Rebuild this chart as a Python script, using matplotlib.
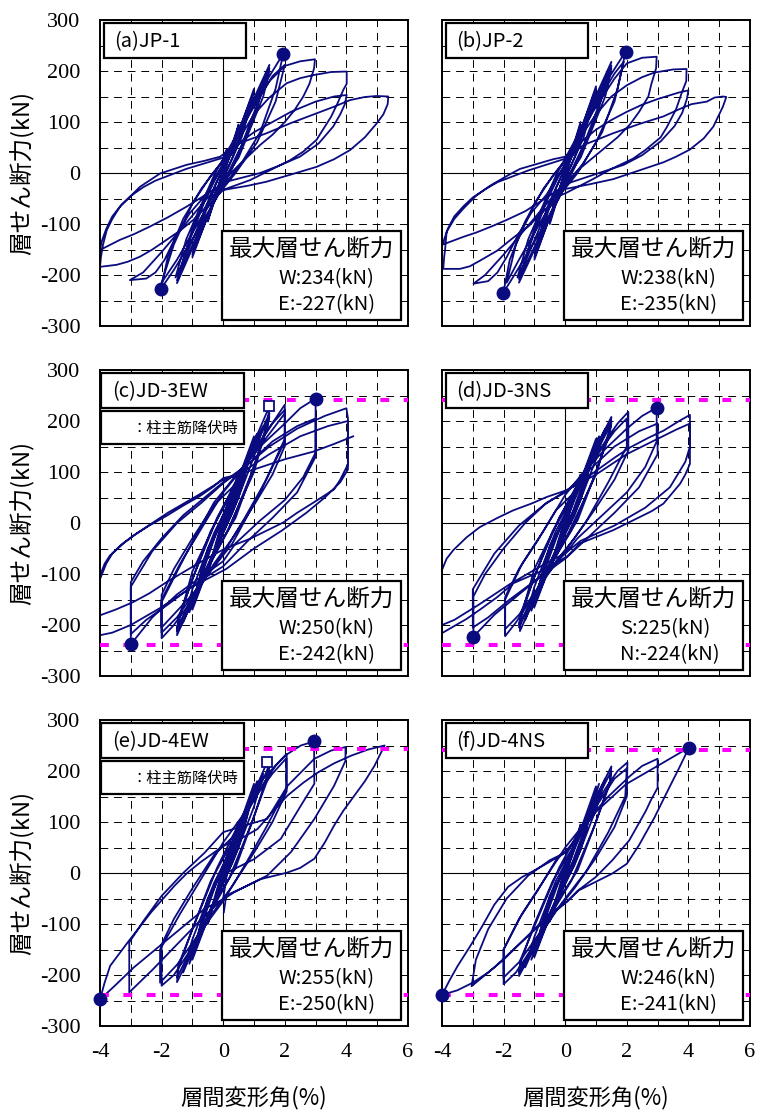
import matplotlib
matplotlib.use("Agg")
import matplotlib.pyplot as plt
from matplotlib.patches import Rectangle

plt.rcParams['font.family'] = ['Noto Sans CJK JP', 'DejaVu Sans']
plt.rcParams['axes.unicode_minus'] = False

# ---------------- data (drift angle %, story shear kN) ----------------
panel_titles = ['(a)JP-1', '(b)JP-2', '(c)JD-3EW', '(d)JD-3NS', '(e)JD-4EW', '(f)JD-4NS']
max_pos_label = ['W:234(kN)', 'W:238(kN)', 'W:250(kN)', 'S:225(kN)', 'W:255(kN)', 'W:246(kN)']
max_neg_label = ['E:-227(kN)', 'E:-235(kN)', 'E:-242(kN)', 'N:-224(kN)', 'E:-250(kN)', 'E:-241(kN)']

# max shear points (drift, shear)
max_pos_pt = [(1.95, 234), (1.96, 238), (3.0, 244), (2.97, 226), (2.95, 258), (4.02, 246)]
max_neg_pt = [(-2.02, -227), (-2.01, -235), (-3.0, -238), (-2.98, -223), (-4.0, -248), (-4.0, -239)]

# column main bar yield points (only EW specimens)
yield_pt = [None, None, (1.5, 229), None, (1.43, 218), None]

# calculated strength lines (pink)
calc_pos = [None, None, 242, 242, 243, 242]
calc_neg = [None, None, -239, -240, -239, -240]

jp1_path = [
    (0.0, 0), (0.25, 45), (0.1, 15), (-0.25, -45), (-0.1, -15), (0.0, 0),
    (0.5, 95), (0.35, 55), (0.0, 0), (-0.5, -95), (-0.35, -55), (0.0, 0),
    (0.5, 92), (0.1, 15), (-0.5, -92), (-0.1, -15), (0.2, 30),
    (1.0, 165), (0.8, 115), (0.3, 30), (-0.2, -35), (-1.0, -165), (-0.8, -115), (-0.3, -30), (0.2, 35),
    (1.0, 160), (0.6, 70), (-0.1, -25), (-1.0, -160), (-0.6, -70), (0.1, 25),
    (0.8, 120), (1.5, 212), (1.2, 150), (0.6, 55), (0.0, -20), (-0.8, -120), (-1.5, -216), (-1.2, -150), (-0.6, -55), (0.0, 20),
    (0.8, 115), (1.5, 205), (1.0, 110), (0.3, 10), (-0.8, -115), (-1.5, -210), (-1.0, -110), (-0.3, -10), (0.3, 40),
    (1.2, 165), (1.5, 200), (1.3, 150), (0.5, 30), (-0.5, -60), (-1.3, -175), (-1.55, -205), (-1.2, -130), (-0.3, -5),
    (1.4, 180), (1.95, 234), (1.7, 165), (1.2, 80), (0.6, 20), (0.0, -25), (-0.9, -120), (-1.6, -190), (-2.02, -227),
    (-1.8, -165), (-1.3, -90), (-0.7, -30), (0.0, 25),
    (0.9, 120), (1.6, 190), (2.0, 212), (1.7, 140), (1.1, 60), (0.4, 0), (-0.6, -75), (-1.5, -170), (-2.0, -215),
    (-1.6, -140), (-1.0, -60), (-0.4, -5), (0.2, 40),
    (0.9, 125), (1.5, 180), (2.0, 210), (2.5, 219), (2.98, 223), (2.95, 205), (2.8, 175), (2.6, 150), (2.3, 122),
    (2.0, 100), (1.6, 75), (1.2, 55), (0.5, 15), (0.0, -15), (-0.6, -55), (-1.3, -105), (-2.0, -155), (-2.6, -195),
    (-3.03, -210), (-2.5, -207), (-2.2, -195), (-1.9, -170), (-1.5, -120), (-1.1, -80), (-0.6, -45), (0.0, 15), (0.3, 40),
    (0.6, 75), (1.0, 115), (1.5, 148), (2.06, 176), (2.5, 186), (2.93, 192), (3.5, 198), (4.01, 199), (4.01, 175),
    (3.9, 163), (3.7, 135), (3.5, 110), (3.03, 65), (2.6, 42), (2.17, 25), (1.5, 5), (0.87, -14), (0.0, -33),
    (-0.32, -53), (-0.97, -92), (-1.4, -113), (-1.84, -131), (-2.3, -150), (-2.7, -164), (-3.1, -174), (-3.46, -180),
    (-4.0, -184), (-3.97, -165), (-3.9, -140), (-3.78, -112), (-3.6, -90), (-3.35, -66), (-3.0, -45), (-2.7, -27),
    (-2.05, -1), (-1.6, 8), (-1.19, 16), (-0.6, 24), (-0.1, 32),
    (0.5, 58), (1.0, 80), (1.6, 100), (2.2, 120), (3.0, 140), (3.6, 150), (4.01, 153), (3.95, 135), (3.8, 115),
    (3.57, 91), (3.1, 58), (2.49, 32), (1.8, 14), (1.2, 0), (0.11, -17), (-0.5, -40), (-1.19, -66), (-1.8, -87),
    (-2.38, -105), (-2.9, -120), (-3.35, -131), (-4.0, -151), (-3.95, -135), (-3.8, -110), (-3.6, -85), (-3.3, -62),
    (-3.0, -45), (-2.6, -28), (-2.2, -15), (-1.2, 8), (0.0, 30),
    (0.1, 45), (0.6, 60), (1.41, 78), (2.2, 98), (3.03, 117), (3.6, 130), (4.12, 143), (4.6, 149), (4.98, 151),
    (5.36, 150), (5.34, 135), (5.2, 115), (4.98, 97), (4.6, 70), (4.12, 45), (3.6, 27), (3.03, 12), (2.2, -3),
    (1.41, -17), (0.8, -25), (0.33, -30), (0.03, -33),
]

jp2_path = [
    (0.0, 0), (0.25, 45), (0.1, 15), (-0.25, -45), (-0.1, -15), (0.0, 0),
    (0.5, 100), (0.35, 55), (0.0, 0), (-0.5, -100), (-0.35, -55), (0.0, 0),
    (0.5, 95), (0.1, 15), (-0.5, -95), (-0.1, -15), (0.2, 30),
    (1.0, 170), (0.8, 120), (0.3, 30), (-0.2, -35), (-1.0, -170), (-0.8, -120), (-0.3, -30), (0.2, 35),
    (1.0, 165), (0.6, 70), (-0.1, -25), (-1.0, -165), (-0.6, -70), (0.1, 25),
    (0.8, 125), (1.5, 218), (1.2, 150), (0.6, 55), (0.0, -20), (-0.8, -125), (-1.5, -215), (-1.2, -150), (-0.6, -55), (0.0, 20),
    (0.8, 120), (1.5, 210), (1.0, 110), (0.3, 10), (-0.8, -120), (-1.5, -208), (-1.0, -110), (-0.3, -10), (0.3, 40),
    (1.2, 170), (1.5, 205), (1.3, 150), (0.5, 30), (-0.5, -60), (-1.3, -175), (-1.55, -205), (-1.2, -130), (-0.3, -5),
    (1.4, 185), (1.96, 238), (1.7, 165), (1.2, 80), (0.6, 20), (0.0, -25), (-0.9, -125), (-1.6, -195), (-2.01, -235),
    (-1.8, -170), (-1.3, -95), (-0.7, -30), (0.0, 25),
    (0.9, 125), (1.6, 195), (1.9, 218), (1.6, 140), (1.0, 60), (0.4, 0), (-0.6, -75), (-1.5, -170), (-1.9, -215),
    (-1.6, -140), (-1.0, -60), (-0.4, -5), (0.2, 40),
    (0.9, 120), (1.6, 185), (2.0, 215), (2.5, 226), (2.97, 228), (2.95, 205), (2.8, 175), (2.7, 150), (2.4, 120),
    (2.1, 95), (1.7, 70), (1.3, 50), (0.5, 10), (0.0, -20), (-0.6, -60), (-1.3, -110), (-2.0, -160), (-2.6, -200),
    (-2.98, -217), (-2.5, -212), (-2.2, -195), (-1.9, -165), (-1.5, -118), (-1.1, -78), (-0.6, -42), (0.0, 15), (0.3, 40),
    (0.6, 80), (1.0, 115), (1.5, 150), (2.0, 172), (2.5, 188), (2.9, 197), (3.5, 203), (3.94, 204), (3.93, 180),
    (3.8, 160), (3.6, 125), (3.3, 90), (3.1, 70), (2.6, 45), (2.2, 28), (1.5, 8), (0.9, -12), (0.0, -40),
    (-0.17, -44), (-0.82, -82), (-1.2, -105), (-1.69, -127), (-2.2, -152), (-2.77, -172), (-3.1, -183),
    (-3.42, -188), (-3.96, -188), (-3.93, -165), (-3.9, -150), (-3.85, -115), (-3.6, -90), (-3.31, -70), (-2.9, -45),
    (-2.44, -25), (-1.9, -6), (-1.47, 8), (-0.9, 18), (-0.39, 27), (0.0, 32),
    (0.5, 60), (1.0, 85), (1.5, 104), (2.0, 120), (2.5, 134), (3.0, 145), (3.7, 158), (4.0, 162), (3.95, 145),
    (3.8, 118), (3.55, 92), (3.1, 62), (2.5, 35), (1.9, 16), (1.2, 2), (0.1, -20), (-0.6, -48), (-1.3, -75),
    (-1.9, -92), (-2.4, -105), (-2.9, -117), (-3.3, -125), (-3.96, -140), (-3.93, -130), (-3.8, -108), (-3.6, -85),
    (-3.3, -65), (-3.0, -48), (-2.6, -32), (-2.2, -18), (-1.2, 5), (0.0, 28),
    (0.6, 55), (1.56, 78), (2.4, 96), (3.19, 111), (3.7, 125), (4.1, 135), (4.6, 140), (4.85, 148), (5.13, 150),
    (5.23, 149), (5.12, 130), (5.0, 115), (4.81, 91), (4.5, 68), (4.05, 46), (3.6, 32), (3.19, 21), (2.4, 5),
    (1.56, -12), (0.8, -22), (0.03, -31),
]

jd3ew_path = [
    (0.0, 0), (0.25, 50), (0.1, 15), (-0.25, -50), (-0.1, -15), (0.0, 0),
    (0.5, 100), (0.4, 75), (0.0, 5), (-0.5, -100), (-0.4, -75), (0.0, -5),
    (0.5, 95), (0.1, 10), (-0.5, -95), (-0.1, -10), (0.3, 55),
    (1.0, 170), (0.95, 150), (0.5, 60), (0.0, -15), (-0.5, -90), (-1.0, -170), (-0.95, -150), (-0.5, -60), (0.0, 15),
    (0.5, 85), (1.0, 165), (0.6, 70), (0.0, -10), (-1.0, -165), (-0.6, -70), (0.0, 10),
    (0.5, 80), (1.0, 160), (0.5, 50), (-1.0, -160), (-0.5, -50), (0.2, 30),
    (0.7, 110), (1.1, 175), (0.8, 120), (0.2, 20), (-0.4, -70), (-1.1, -175), (-0.8, -120), (-0.2, -15), (0.1, 30),
    (0.8, 130), (1.5, 229), (1.45, 200), (1.0, 110), (0.4, 10), (-0.3, -60), (-0.9, -140), (-1.5, -220), (-1.45, -190),
    (-1.0, -110), (-0.4, -15), (0.2, 50),
    (0.9, 135), (1.5, 215), (1.45, 190), (0.9, 95), (0.2, -10), (-0.8, -120), (-1.5, -212), (-1.45, -185), (-0.9, -95), (-0.2, 10),
    (0.8, 120), (1.5, 208), (1.0, 100), (0.1, -20), (-1.5, -205), (-1.0, -95), (-0.1, 20),
    (0.7, 115), (1.3, 190), (1.0, 130), (0.3, 20), (-0.6, -95), (-1.3, -195), (-1.0, -130), (-0.3, -20), (0.2, 40),
    (0.6, 100), (1.3, 170), (1.7, 205), (2.0, 232), (2.0, 151), (1.6, 95), (1.0, 35), (0.3, -30), (-0.3, -80),
    (-1.0, -150), (-1.6, -200), (-2.0, -226), (-2.0, -141), (-1.6, -90), (-1.0, -30), (-0.3, 35), (0.3, 70),
    (1.0, 140), (1.6, 195), (2.0, 222), (2.0, 160), (1.4, 85), (0.7, 10), (0.0, -60), (-0.8, -125), (-1.5, -185),
    (-2.0, -215), (-2.0, -150), (-1.4, -80), (-0.7, -10), (0.0, 60),
    (1.0, 135), (2.0, 215), (2.0, 165), (1.2, 60), (0.3, -40), (-1.0, -140), (-2.0, -205), (-2.0, -155), (-1.2, -60), (-0.3, 40),
    (0.5, 100), (1.2, 150), (2.0, 195), (2.5, 225), (3.0, 244), (3.0, 138), (2.6, 90), (2.0, 45), (1.2, 5), (0.4, -40),
    (0.0, -75), (-0.7, -105), (-1.5, -140), (-2.3, -185), (-3.0, -238), (-3.0, -116), (-2.6, -75), (-2.0, -30),
    (-1.3, 15), (-0.6, 50), (0.0, 80),
    (0.8, 115), (1.6, 160), (2.4, 190), (3.0, 205), (3.0, 130), (2.4, 60), (1.6, 10), (0.8, -35), (0.0, -85),
    (-0.8, -115), (-1.8, -160), (-2.5, -190), (-3.0, -218), (-3.0, -125), (-2.3, -55), (-1.5, 0), (-0.7, 40), (0.0, 78),
    (0.6, 105), (1.5, 150), (2.4, 185), (3.3, 210), (4.0, 225), (4.05, 205), (4.05, 105), (3.8, 80), (3.3, 50),
    (2.7, 20), (1.9, -15), (1.0, -50), (0.1, -90), (-1.0, -125), (-2.0, -165), (-3.0, -200), (-3.6, -215), (-4.0, -220),
    (-4.0, -103), (-3.85, -80), (-3.68, -64), (-3.3, -42), (-2.92, -25), (-2.4, -5), (-1.84, 14), (-1.3, 34),
    (-0.75, 53), (-0.3, 72), (0.0, 88),
    (0.5, 95), (1.5, 135), (2.5, 170), (3.4, 190), (4.05, 200), (4.05, 115), (3.8, 85), (3.6, 66), (2.93, 40),
    (2.4, 20), (1.95, 1), (0.87, -31), (0.03, -51), (-0.75, -77), (-1.84, -116), (-2.4, -138), (-2.92, -155),
    (-3.5, -170), (-4.0, -181), (-4.0, -110), (-3.8, -80), (-3.6, -60), (-3.2, -38), (-2.8, -20), (-1.8, 20),
    (-0.8, 55), (0.0, 85),
    (1.0, 105), (2.0, 125), (2.93, 140), (3.6, 155), (4.22, 170),
]

jd3ns_path = [
    (0.0, 0), (0.25, 45), (0.1, 15), (-0.25, -45), (-0.1, -15), (0.0, 0),
    (0.5, 95), (0.4, 70), (0.0, 5), (-0.5, -95), (-0.4, -70), (0.0, -5),
    (0.5, 90), (0.1, 10), (-0.5, -90), (-0.1, -10), (0.3, 50),
    (1.0, 165), (0.95, 145), (0.5, 55), (0.0, -15), (-0.5, -85), (-1.0, -165), (-0.95, -145), (-0.5, -55), (0.0, 15),
    (0.5, 80), (1.0, 160), (0.6, 65), (0.0, -10), (-1.0, -160), (-0.6, -65), (0.0, 10),
    (0.5, 75), (1.0, 155), (0.5, 45), (-1.0, -155), (-0.5, -45), (0.2, 30),
    (0.7, 105), (1.1, 170), (0.8, 115), (0.2, 15), (-0.4, -65), (-1.1, -172), (-0.8, -115), (-0.2, -15), (0.1, 30),
    (0.8, 125), (1.5, 208), (1.45, 180), (1.0, 100), (0.4, 5), (-0.3, -60), (-0.9, -135), (-1.47, -212), (-1.45, -185),
    (-1.0, -105), (-0.4, -15), (0.2, 45),
    (0.9, 130), (1.5, 200), (1.45, 175), (0.9, 85), (0.2, -15), (-0.8, -115), (-1.5, -205), (-1.45, -178), (-0.9, -90), (-0.2, 10),
    (0.8, 115), (1.5, 195), (1.0, 95), (0.1, -20), (-1.5, -198), (-1.0, -90), (-0.1, 20),
    (0.7, 110), (1.3, 185), (1.0, 125), (0.3, 15), (-0.6, -90), (-1.3, -190), (-1.0, -125), (-0.3, -15), (0.2, 40),
    (0.6, 95), (1.3, 160), (1.7, 195), (2.05, 218), (2.05, 142), (1.6, 85), (1.0, 30), (0.3, -30), (-0.3, -75),
    (-1.0, -140), (-1.6, -195), (-1.95, -222), (-1.95, -145), (-1.5, -90), (-0.9, -35), (-0.3, 25), (0.3, 60),
    (1.0, 130), (1.6, 180), (2.0, 205), (2.0, 150), (1.4, 80), (0.7, 5), (0.0, -55), (-0.8, -120), (-1.5, -180),
    (-1.95, -208), (-1.95, -150), (-1.4, -80), (-0.7, -15), (0.0, 55),
    (0.6, 100), (1.3, 145), (2.0, 185), (2.5, 210), (2.97, 226), (2.97, 160), (2.6, 110), (2.0, 60), (1.2, 15),
    (0.4, -30), (0.0, -60), (-0.7, -100), (-1.5, -140), (-2.3, -180), (-2.98, -223), (-2.98, -144), (-2.6, -100),
    (-2.0, -50), (-1.3, 0), (-0.6, 40), (0.0, 60),
    (0.8, 105), (1.6, 150), (2.4, 180), (3.0, 195), (3.0, 135), (2.4, 70), (1.6, 20), (0.8, -25), (0.0, -70),
    (-0.8, -105), (-1.8, -150), (-2.5, -185), (-3.0, -205), (-3.0, -130), (-2.3, -60), (-1.5, -5), (-0.7, 35), (0.0, 62),
    (0.5, 80), (1.02, 103), (1.6, 128), (2.1, 148), (2.7, 167), (3.19, 181), (3.7, 200), (4.05, 212), (4.05, 116),
    (3.9, 95), (3.73, 77), (3.19, 38), (2.8, 23), (2.43, 12), (1.56, -14), (0.48, -40), (0.05, -66), (-0.8, -95),
    (-1.68, -118), (-2.2, -145), (-2.77, -170), (-3.2, -188), (-3.63, -203), (-4.0, -216), (-4.0, -92), (-3.85, -70),
    (-3.63, -53), (-3.2, -28), (-2.77, -8), (-2.2, 10), (-1.68, 25), (-1.1, 38), (-0.6, 51), (0.03, 64),
    (1.0, 95), (2.0, 135), (3.0, 165), (3.6, 183), (4.05, 195), (4.05, 150), (3.9, 120), (3.4, 70), (2.6, 30),
    (1.6, -5), (0.5, -35), (0.03, -58), (-0.8, -85), (-1.8, -120), (-2.8, -160), (-3.6, -190), (-4.0, -200), (-4.0, -164),
]

jd4ew_path = [
    (0.0, 0), (0.25, 50), (0.1, 15), (-0.25, -50), (-0.1, -15), (0.0, 0),
    (0.5, 100), (0.4, 75), (0.0, 5), (-0.5, -100), (-0.4, -75), (0.0, -5),
    (0.5, 95), (0.1, 10), (-0.5, -95), (-0.1, -10), (0.3, 55),
    (1.0, 175), (0.95, 150), (0.5, 60), (0.0, -15), (-0.5, -90), (-1.0, -170), (-0.95, -150), (-0.5, -60), (0.0, 15),
    (0.5, 85), (1.0, 168), (0.6, 70), (0.0, -10), (-1.0, -165), (-0.6, -70), (0.0, 10),
    (0.5, 80), (1.0, 160), (0.5, 50), (-1.0, -160), (-0.5, -50), (0.2, 30),
    (0.7, 115), (1.1, 180), (0.8, 120), (0.2, 20), (-0.4, -70), (-1.1, -178), (-0.8, -120), (-0.2, -15), (0.1, 30),
    (0.8, 130), (1.43, 218), (1.45, 195), (1.0, 110), (0.4, 10), (-0.3, -60), (-0.9, -140), (-1.5, -214), (-1.45, -185),
    (-1.0, -110), (-0.4, -15), (0.2, 50),
    (0.9, 135), (1.5, 210), (1.45, 185), (0.9, 95), (0.2, -10), (-0.8, -120), (-1.5, -205), (-1.45, -180), (-0.9, -95), (-0.2, 10),
    (0.7, 120), (1.3, 195), (1.0, 130), (0.3, 20), (-0.6, -95), (-1.3, -195), (-1.0, -130), (-0.3, -20), (0.2, 40),
    (0.6, 100), (1.3, 175), (1.7, 210), (2.06, 233), (2.06, 160), (1.6, 100), (1.0, 40), (0.3, -25), (-0.3, -75),
    (-1.0, -145), (-1.6, -200), (-2.0, -221), (-2.0, -140), (-1.6, -90), (-1.0, -30), (-0.3, 35), (0.3, 70),
    (1.0, 145), (1.6, 195), (2.05, 225), (2.05, 165), (1.4, 90), (0.7, 15), (0.0, -55), (-0.8, -120), (-1.5, -180),
    (-2.05, -215), (-2.05, -150), (-1.4, -80), (-0.7, -10), (0.0, 60),
    (0.6, 110), (1.0, 150), (1.3, 185), (2.0, 230), (2.52, 250), (2.95, 258), (2.96, 175), (2.52, 132), (1.87, 67),
    (1.0, 27), (0.13, 1), (0.0, -50), (-0.7, -90), (-1.5, -140), (-2.3, -190), (-3.05, -234), (-3.05, -136),
    (-2.6, -95), (-2.0, -45), (-1.3, 0), (-0.6, 40), (0.0, 80),
    (0.8, 95), (1.43, 106), (2.09, 171), (2.96, 224), (3.5, 240), (3.97, 247), (3.97, 220), (3.6, 171), (2.96, 106),
    (2.2, 41), (1.43, -5), (0.35, -38), (0.02, -51), (-0.6, -70), (-1.2, -100), (-2.0, -140), (-2.9, -185),
    (-3.5, -220), (-4.0, -248), (-3.85, -215), (-3.67, -182), (-3.1, -136), (-2.34, -77), (-1.58, -25), (-1.17, 0),
    (-0.74, 21), (0.0, 53),
    (0.5, 65), (1.11, 86), (1.6, 120), (2.09, 152), (2.6, 177), (3.07, 197), (3.6, 215), (4.15, 230), (4.7, 242),
    (5.24, 250), (4.91, 210), (4.6, 180), (4.26, 152), (3.9, 122), (3.6, 93), (3.3, 60), (2.96, 28), (2.5, 10),
    (2.09, 1), (1.22, -12), (0.6, -30), (0.1, -44), (0.02, -77),
]

jd4ns_path = [
    (0.0, 0), (0.25, 45), (0.1, 15), (-0.25, -45), (-0.1, -15), (0.0, 0),
    (0.5, 95), (0.4, 70), (0.0, 5), (-0.5, -95), (-0.4, -70), (0.0, -5),
    (0.5, 90), (0.1, 10), (-0.5, -90), (-0.1, -10), (0.3, 50),
    (1.0, 170), (0.95, 145), (0.5, 55), (0.0, -15), (-0.5, -85), (-1.0, -165), (-0.95, -145), (-0.5, -55), (0.0, 15),
    (0.5, 80), (1.0, 162), (0.6, 65), (0.0, -10), (-1.0, -160), (-0.6, -65), (0.0, 10),
    (0.5, 75), (1.0, 158), (0.5, 45), (-1.0, -155), (-0.5, -45), (0.2, 30),
    (0.7, 110), (1.1, 175), (0.8, 115), (0.2, 15), (-0.4, -65), (-1.1, -170), (-0.8, -115), (-0.2, -15), (0.1, 30),
    (0.8, 125), (1.5, 209), (1.45, 180), (1.0, 100), (0.4, 5), (-0.3, -60), (-0.9, -135), (-1.5, -202), (-1.45, -175),
    (-1.0, -100), (-0.4, -15), (0.2, 45),
    (0.9, 130), (1.5, 200), (1.45, 175), (0.9, 85), (0.2, -15), (-0.8, -115), (-1.5, -195), (-1.45, -170), (-0.9, -90), (-0.2, 10),
    (0.7, 110), (1.3, 185), (1.0, 125), (0.3, 15), (-0.6, -90), (-1.3, -185), (-1.0, -125), (-0.3, -15), (0.2, 40),
    (0.6, 95), (1.3, 165), (1.7, 200), (2.02, 217), (2.0, 150), (1.6, 90), (1.0, 30), (0.3, -30), (-0.3, -75),
    (-1.0, -140), (-1.6, -195), (-2.0, -218), (-2.0, -150), (-1.5, -90), (-0.9, -35), (-0.3, 25), (0.3, 60),
    (1.0, 130), (1.6, 185), (2.0, 205), (1.95, 150), (1.4, 80), (0.7, 5), (0.0, -50), (-0.8, -115), (-1.5, -175),
    (-2.0, -205), (-2.0, -150), (-1.4, -80), (-0.7, -15), (0.0, 50),
    (0.6, 95), (1.4, 150), (2.1, 190), (2.5, 210), (3.0, 224), (3.0, 167), (2.8, 145), (2.62, 122), (2.08, 64),
    (1.53, 25), (0.99, -8), (0.4, -35), (0.06, -56), (-0.7, -95), (-1.5, -140), (-2.3, -185), (-3.04, -222),
    (-2.9, -170), (-2.5, -110), (-1.9, -50), (-1.2, -5), (-0.5, 25), (0.0, 40),
    (0.5, 80), (1.0, 120), (1.97, 174), (3.0, 210), (4.02, 246), (3.85, 225), (3.7, 206), (3.3, 158), (2.9, 109),
    (2.4, 55), (2.0, 18), (1.53, -1), (0.44, -34), (0.06, -56), (-0.5, -80), (-1.0, -110), (-1.5, -140), (-2.0, -170),
    (-2.5, -195), (-3.0, -215), (-3.5, -230), (-4.0, -239), (-3.75, -210), (-3.5, -183), (-3.1, -145), (-2.7, -105),
    (-2.3, -62), (-1.85, -27), (-1.4, -8), (-1.0, 5), (-0.5, 22), (0.0, 40),
]

paths = [jp1_path, jp2_path, jd3ew_path, jd3ns_path, jd4ew_path, jd4ns_path]

x_ticks = [-4, -2, 0, 2, 4, 6]
y_ticks = [-300, -200, -100, 0, 100, 200, 300]
x_ticklabels = ['-4', '-2', '0', '2', '4', '6']
y_ticklabels = ['-300', '-200', '-100', '0', '100', '200', '300']

ylabel_text = '層せん断力(kN)'
xlabel_text = '層間変形角(%)'
legend_text = '：柱主筋降伏時'
box_heading = '最大層せん断力'

# ---------------- figure ----------------
W, H = 767, 1113
fig = plt.figure(figsize=(W / 100, H / 100), dpi=100)

col_left = [100, 442]
row_top = [20, 370, 720]
ax_w, ax_h = 308, 306

navy = '#0b0b80'
serif = 'Liberation Serif'

for i, path in enumerate(paths):
    r, c = divmod(i, 2)
    ax = fig.add_axes([col_left[c] / W, 1 - (row_top[r] + ax_h) / H, ax_w / W, ax_h / H])
    ax.set_xlim(-4, 6)
    ax.set_ylim(-300, 300)

    ax.set_xticks(x_ticks)
    ax.set_xticks([-3, -1, 1, 3, 5], minor=True)
    ax.set_yticks(y_ticks)
    ax.set_yticks([-250, -150, -50, 50, 150, 250], minor=True)
    ax.grid(True, which='both', color='black', lw=0.7, ls=(0, (8, 6)))
    ax.set_axisbelow(True)
    ax.axhline(0, color='black', lw=0.8, zorder=1.5)
    ax.axvline(0, color='black', lw=0.8, zorder=1.5)
    ax.tick_params(which='both', length=0)

    if r == 2:
        ax.set_xticklabels(x_ticklabels, fontfamily=serif, fontsize=16)
        ax.tick_params(axis='x', pad=12)
    else:
        ax.set_xticklabels([])
    if c == 0:
        ax.set_yticklabels(y_ticklabels, fontfamily=serif, fontsize=16)
        ax.tick_params(axis='y', pad=14)
    else:
        ax.set_yticklabels([])

    for sp in ax.spines.values():
        sp.set_linewidth(1.4)

    xs, ys = zip(*path)
    ax.plot(xs, ys, color=navy, lw=1.3, zorder=2)

    if calc_pos[i] is not None:
        ax.axhline(calc_pos[i], color='#ff00ff', lw=2.9, ls=(0, (2.2, 3.6)), zorder=3)
        ax.axhline(calc_neg[i], color='#ff00ff', lw=2.9, ls=(0, (2.2, 3.6)), zorder=3)

    for pt in (max_pos_pt[i], max_neg_pt[i]):
        ax.plot(pt[0], pt[1], 'o', ms=9, color=navy, zorder=4, clip_on=False)
    if yield_pt[i] is not None:
        ax.plot(yield_pt[i][0], yield_pt[i][1], 's', ms=7, mfc='white', mec=navy, mew=1.3, zorder=4)

    # title box
    tl = 0.003 if yield_pt[i] is not None else 0.012
    ax.add_patch(Rectangle((tl, 0.877), 0.463, 0.113, transform=ax.transAxes,
                           fc='white', ec='black', lw=1.6, zorder=5, clip_on=False))
    ax.text(tl + 0.035, 0.93, panel_titles[i], transform=ax.transAxes, fontsize=14.5,
            ha='left', va='center', zorder=6)

    # yield legend box
    if yield_pt[i] is not None:
        ax.add_patch(Rectangle((tl, 0.757), 0.463, 0.11, transform=ax.transAxes,
                               fc='white', ec='black', lw=1.6, zorder=5, clip_on=False))
        ax.text(tl + 0.445, 0.808, legend_text, transform=ax.transAxes, fontsize=11,
                ha='right', va='center', zorder=6)

    # max shear box
    ax.add_patch(Rectangle((0.397, 0.018), 0.58, 0.293, transform=ax.transAxes,
                           fc='white', ec='black', lw=1.6, zorder=5, clip_on=False))
    ax.text(0.687, 0.248, box_heading, transform=ax.transAxes, fontsize=17,
            ha='center', va='center', zorder=6)
    ax.text(0.578, 0.156, max_pos_label[i], transform=ax.transAxes, fontsize=14.5,
            ha='left', va='center', zorder=6)
    ax.text(0.578, 0.069, max_neg_label[i], transform=ax.transAxes, fontsize=14.5,
            ha='left', va='center', zorder=6)

# axis labels
for r in range(3):
    fig.text(22 / W, 1 - (row_top[r] + ax_h / 2) / H, ylabel_text, rotation=90,
             ha='center', va='center', fontsize=17)
for c in range(2):
    fig.text((col_left[c] + ax_w / 2) / W, 1 - 1098 / H, xlabel_text,
             ha='center', va='center', fontsize=16)

fig.savefig('out.png', dpi=100)
